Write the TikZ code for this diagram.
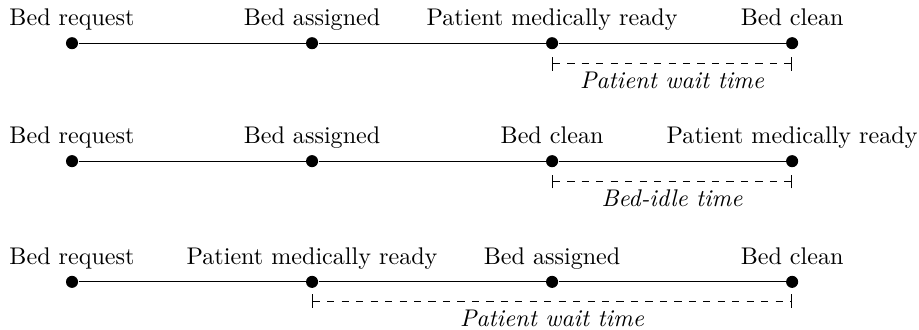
\documentclass[tikz,border=0pt]{standalone}
\usepackage{amsmath}
\usepackage{tikz}

\begin{document}
\begin{tikzpicture}[>=stealth,
    dot/.style={circle,fill,inner sep=0pt,minimum size=5pt},
    span/.style={dashed,|-|},
    every label/.style={text height=1.5ex,text depth=.25ex}]
         \useasboundingbox (0,0) rectangle (13.4,4.8);
         % bed request, bed assigned, ready, clean
         \node[dot,label=above:{Bed request}] (A1) at (1.05,4.17) {};
         \node[dot,label=above:{Bed assigned}] (B1) at (4.55,4.17) {};
         \node[dot,label=above:{Patient medically ready}] (C1) at (8.05,4.17) {};
         \node[dot,label=above:{Bed clean}] (D1) at (11.55,4.17) {};
         \draw (A1) -- (B1) -- (C1) -- (D1);
         \coordinate (S1) at (8.05,3.87);
         \coordinate (T1) at (11.55,3.87);
         \draw[span] (S1) -- node[below] {\textit{Patient wait time}} (T1);
         % bed clean before patient ready
         \node[dot,label=above:{Bed request}] (A2) at (1.05,2.45) {};
         \node[dot,label=above:{Bed assigned}] (B2) at (4.55,2.45) {};
         \node[dot,label=above:{Bed clean}] (C2) at (8.05,2.45) {};
         \node[dot,label=above:{Patient medically ready}] (D2) at (11.55,2.45) {};
         \draw (A2) -- (B2) -- (C2) -- (D2);
         \coordinate (S2) at (8.05,2.15);
         \coordinate (T2) at (11.55,2.15);
         \draw[span] (S2) -- node[below] {\textit{Bed-idle time}} (T2);
         % patient ready before bed assigned
         \node[dot,label=above:{Bed request}] (A3) at (1.05,0.69) {};
         \node[dot,label=above:{Patient medically ready}] (B3) at (4.55,0.69) {};
         \node[dot,label=above:{Bed assigned}] (C3) at (8.05,0.69) {};
         \node[dot,label=above:{Bed clean}] (D3) at (11.55,0.69) {};
         \draw (A3) -- (B3) -- (C3) -- (D3);
         \coordinate (S3) at (4.55,0.41);
         \coordinate (T3) at (11.55,0.41);
         \draw[span] (S3) -- node[below] {\textit{Patient wait time}} (T3);
      \end{tikzpicture}
\end{document}
